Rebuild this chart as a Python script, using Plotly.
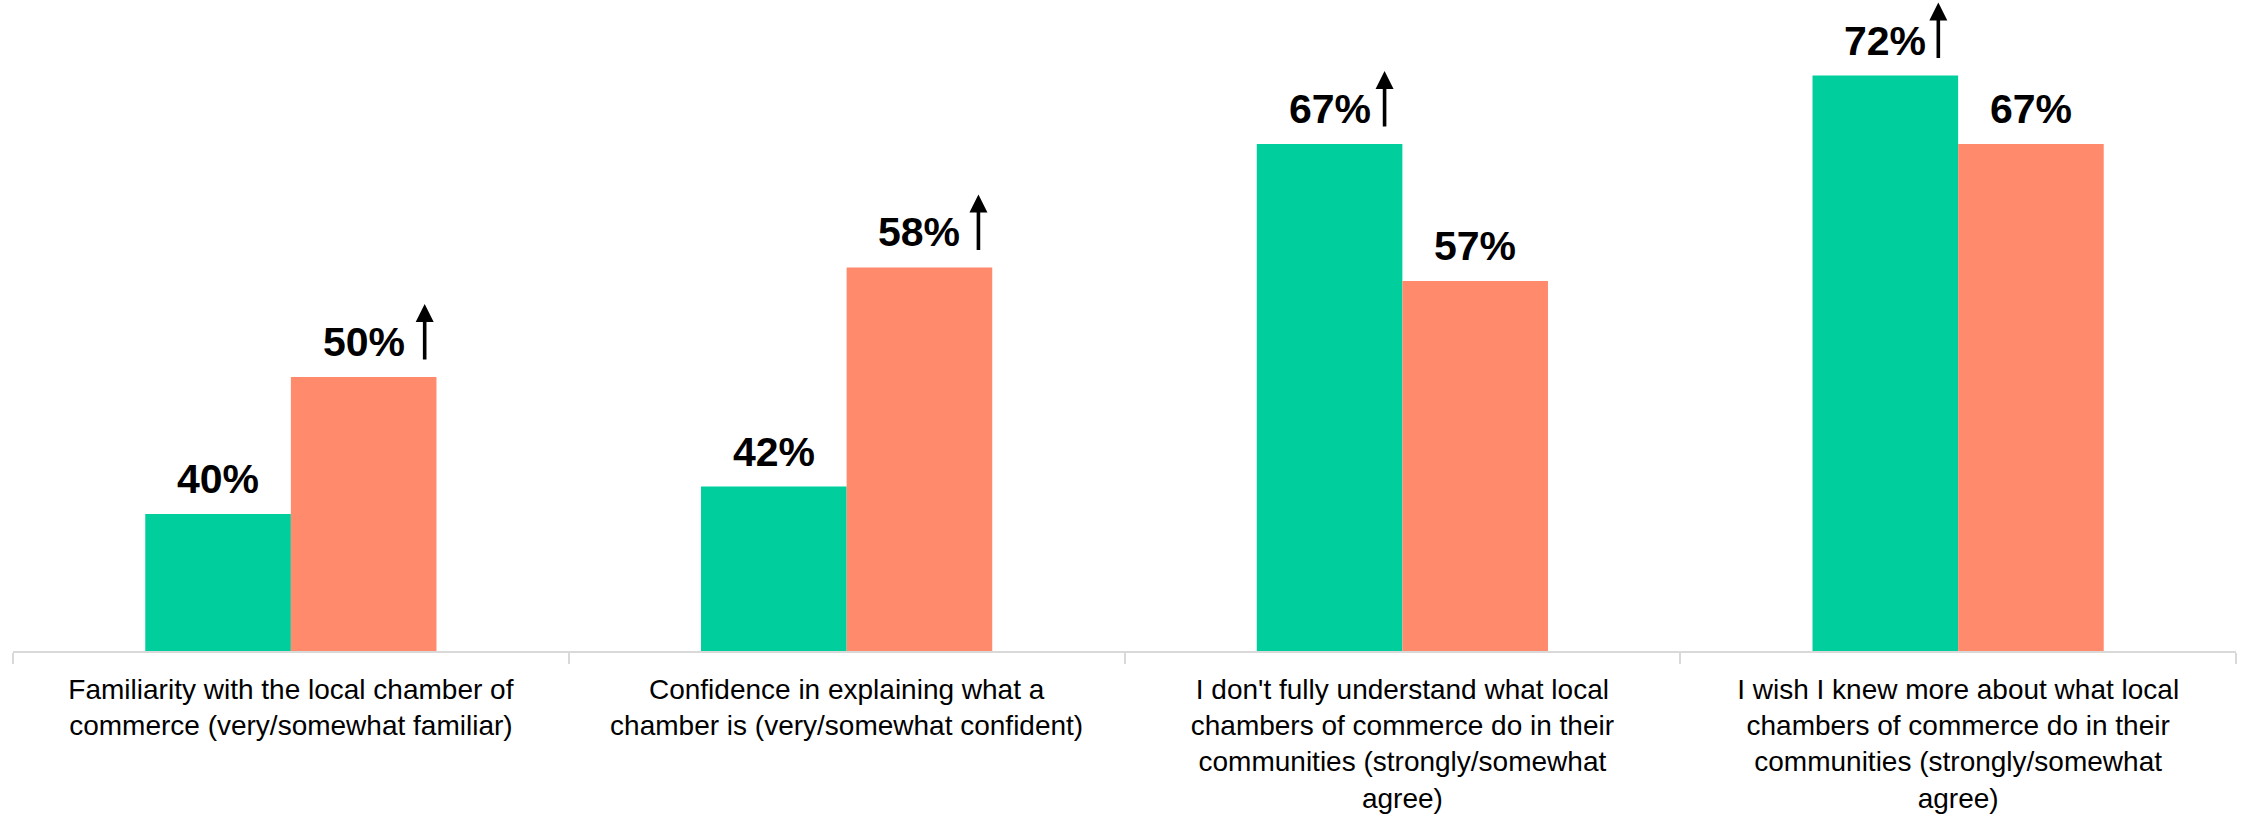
import plotly.graph_objects as go

# Survey items shown on the x axis
categories = [
    "Familiarity with the local chamber of<br>commerce (very/somewhat familiar)",
    "Confidence in explaining what a<br>chamber is (very/somewhat confident)",
    "I don't fully understand what local<br>chambers of commerce do in their<br>communities (strongly/somewhat<br>agree)",
    "I wish I knew more about what local<br>chambers of commerce do in their<br>communities (strongly/somewhat<br>agree)",
]

# Percent agreeing, two respondent groups
group_a = [40, 42, 67, 72]
group_b = [50, 58, 57, 67]

# Which values carry an "increase" arrow
arrow_a = [False, False, True, True]
arrow_b = [True, True, False, False]

GREEN = "#00CE9D"
SALMON = "#FF8A6C"
FONT = "Liberation Sans, Arial, sans-serif"

BARGAP = 0.476
HALF = (1 - BARGAP) / 4  # offset of each bar centre from the category centre

fig = go.Figure()
fig.add_trace(go.Bar(x=categories, y=group_a, marker=dict(color=GREEN, line=dict(width=0)),
                     name="A", hoverinfo="skip"))
fig.add_trace(go.Bar(x=categories, y=group_b, marker=dict(color=SALMON, line=dict(width=0)),
                     name="B", hoverinfo="skip"))

annotations = []
series = [(group_a, arrow_a, -HALF, [61, 59, 55, 53]),
          (group_b, arrow_b, +HALF, [61, 59, 55, 53])]
for values, arrows, off, dxs in series:
    for i, v in enumerate(values):
        xc = i + off
        annotations.append(dict(
            x=xc, y=v, xref="x", yref="y", text=f"<b>{v}%</b>",
            showarrow=False, yanchor="bottom", xanchor="center", yshift=10,
            font=dict(family=FONT, size=41, color="black"),
        ))
        if arrows[i]:
            annotations.append(dict(
                x=xc, y=v, xref="x", yref="y", text="",
                showarrow=True, arrowhead=2, arrowsize=1, arrowwidth=3.6,
                arrowcolor="black", ax=0, ay=57, standoff=0, startstandoff=0,
                xshift=dxs[i], yshift=73,
            ))

fig.update_layout(
    width=2249, height=818, autosize=False,
    margin=dict(l=13, r=13, t=0, b=167, autoexpand=False),
    paper_bgcolor="white", plot_bgcolor="white",
    barmode="group", bargap=BARGAP, bargroupgap=0,
    showlegend=False,
    annotations=annotations,
    font=dict(family=FONT, color="black"),
)
fig.update_xaxes(
    showline=True, linecolor="#D9D9D9", linewidth=2,
    ticks="outside", tickson="boundaries", ticklen=11, tickcolor="#D9D9D9", tickwidth=2,
    tickfont=dict(family=FONT, size=28, color="black"),
    ticklabelstandoff=12, automargin=False,
    showgrid=False, zeroline=False, fixedrange=True,
)
fig.update_yaxes(
    range=[30, 30 + 651 / 13.7], visible=False, showgrid=False, zeroline=False,
    automargin=False,
)

fig.write_html("out.html")
